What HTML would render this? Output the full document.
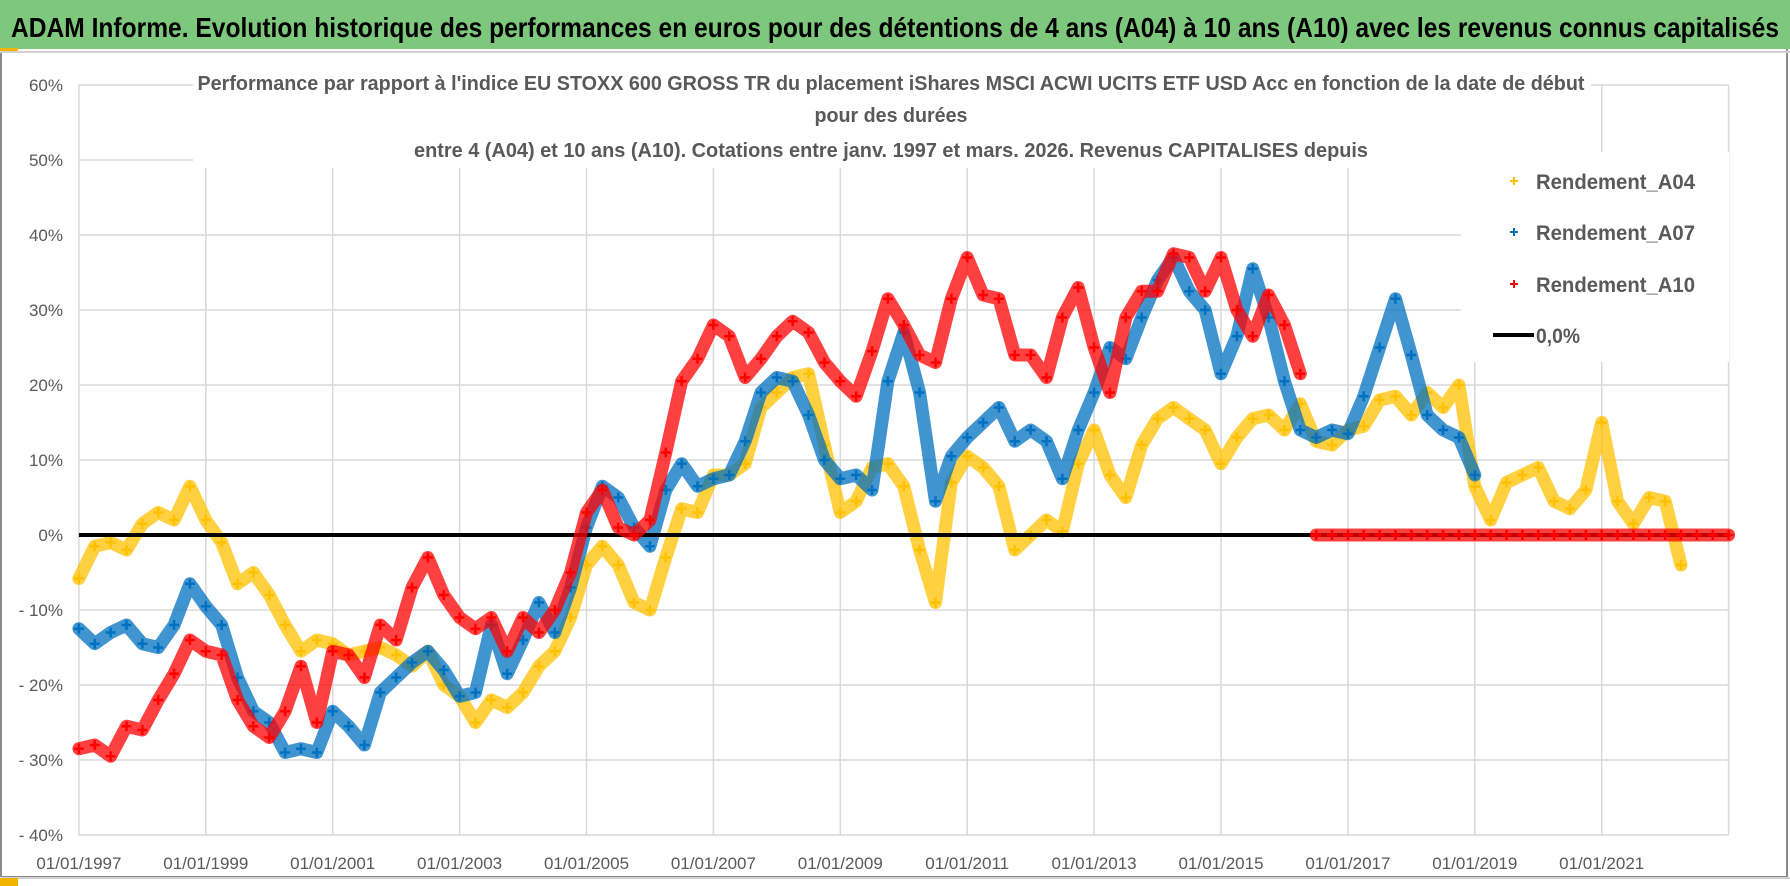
<!DOCTYPE html>
<html><head><meta charset="utf-8">
<style>
html,body{margin:0;padding:0;background:#fff;}
svg{display:block;font-family:"Liberation Sans",sans-serif;}
</style></head>
<body>
<svg id="chart" width="1790" height="886" viewBox="0 0 1790 886" xmlns="http://www.w3.org/2000/svg">
  <rect x="0" y="0" width="1790" height="886" fill="#fff"/>
  <rect x="1" y="1" width="1786" height="876" fill="none" stroke="#8c8c8c" stroke-width="2"/>
  <rect x="0" y="0" width="1790" height="49" fill="#7ec87e"/>
  <line x1="0" y1="52" x2="1790" y2="52" stroke="#d0d0d0" stroke-width="2"/>
  <rect x="0" y="48" width="18" height="3" fill="#f0b400"/>
  <text x="11" y="37" font-size="28" font-weight="bold" fill="#000" textLength="1768" lengthAdjust="spacingAndGlyphs">ADAM Informe. Evolution historique des performances en euros pour des détentions de 4 ans (A04) à 10 ans (A10) avec les revenus connus capitalisés</text>
  <line x1="0" y1="878" x2="1790" y2="878" stroke="#d0d0d0" stroke-width="2"/>
  <rect x="0" y="878" width="18" height="8" fill="#f0b400"/>
  <g id="grid"></g>
  <g id="series"></g>
  <g id="axes"></g>
  <rect x="193" y="68" width="1398" height="100" fill="#fff"/>
  <text x="891" y="90" text-anchor="middle" font-size="20" font-weight="bold" fill="#595959" textLength="1387" lengthAdjust="spacingAndGlyphs">Performance par rapport à l'indice EU STOXX 600 GROSS TR  du placement iShares MSCI ACWI UCITS ETF USD Acc en fonction de la date de début</text>
  <text x="891" y="122" text-anchor="middle" font-size="20" font-weight="bold" fill="#595959" textLength="153" lengthAdjust="spacingAndGlyphs">pour des durées</text>
  <text x="891" y="157" text-anchor="middle" font-size="20" font-weight="bold" fill="#595959" textLength="954" lengthAdjust="spacingAndGlyphs">entre 4 (A04) et 10 ans (A10). Cotations entre janv. 1997 et mars. 2026. Revenus CAPITALISES depuis</text>
  <g>
    <rect x="1461" y="152" width="268" height="210" fill="#fff"/>
    <g>
      <path d="M1510 181h8M1514 177v8" stroke="#ffc000" stroke-width="2"/>
      <text x="1536" y="189" font-size="21" font-weight="bold" fill="#595959" textLength="159" lengthAdjust="spacingAndGlyphs">Rendement_A04</text>
    </g>
    <g>
      <path d="M1510 232h8M1514 228v8" stroke="#0070c0" stroke-width="2"/>
      <text x="1536" y="240" font-size="21" font-weight="bold" fill="#595959" textLength="159" lengthAdjust="spacingAndGlyphs">Rendement_A07</text>
    </g>
    <g>
      <path d="M1510 284h8M1514 280v8" stroke="#ff0000" stroke-width="2"/>
      <text x="1536" y="292" font-size="21" font-weight="bold" fill="#595959" textLength="159" lengthAdjust="spacingAndGlyphs">Rendement_A10</text>
    </g>
    <g>
      <line x1="1493" y1="335" x2="1534" y2="335" stroke="#000" stroke-width="4"/>
      <text x="1536" y="343" font-size="21" font-weight="bold" fill="#595959" textLength="44" lengthAdjust="spacingAndGlyphs">0,0%</text>
    </g>
  </g>
</svg>
<script>
// ---- data ----
const startYear = 1997;
const stepYear = 0.25;
const a04 = [-5.8,-1.5,-1,-2,1.5,3,2,6.5,2,-1,-6.5,-5,-8,-12,-15.5,-14,-14.5,-16,-15.5,-15,-16,-17.5,-15.5,-20,-21.5,-25,-22,-23,-21,-17.5,-15.5,-11,-4,
 -1.5,-4,-9,-10,-3,3.5,3,8,8,9.5,17,19,21,21.5,12,3,4.5,9,9.5,6.5,-2,-9,7,10.5,9,6.5,-2,0,2,0.5,9.5,14,8,5,12,15.5,
 17,15.5,14,9.5,13,15.5,16,14,17.5,12.5,12,14,14.5,18,18.5,16,19,17,20,6.5,2,7,8,9,4.5,3.5,6,15,4.5,1.5,5,4.5,-4];
const a07 = [-12.5,-14.5,-13,-12,-14.5,-15,-12,-6.5,-9.5,-12,-19,-23.5,-25,-29,-28.5,-29,-23.5,-25.5,-28,-21,-19,-17,-15.5,-18,-21.5,-21,-12,-18.5,-14,-9,-13,-7,1,
 6.5,5,1,-1.5,6,9.5,6.5,7.5,8,12.5,19,21,20.5,16,10,7.5,8,6,20.5,27,19,4.5,10.5,13,15,17,12.5,14,12.5,7.5,14,19,25,23.5,29,34,
 37,32.5,30,21.5,26.5,35.5,29,20.5,14,13,14,13.5,18.5,25,31.5,24,16,14,13,8];
const a10 = [-28.5,-28,-29.5,-25.5,-26,-22,-18.5,-14,-15.5,-16,-22,-25.5,-27,-23.5,-17.5,-25,-15.5,-16,-19,-12,-14,-7,-3,-8,-11,-12.5,-11,-15.5,-11,-13,-10,-5,3,
 6,1,0,2,11,20.5,23.5,28,26.5,21,23.5,26.5,28.5,27,23,20.5,18.5,24.5,31.5,28,24,23,31.5,37,32,31.5,24,24,21,29,33,25,19,29,32.5,32.5,
 37.5,37,32.5,37,30,26.5,32,28,21.5,
 0,0,0,0,0,0,0,0,0,0,0,0,0,0,0,0,0,0,0,0,0,0,0,0,0,0,0];
const yTicks = [60,50,40,30,20,10,0,-10,-20,-30,-40];
const xTickLabels = ['01/01/1997','01/01/1999','01/01/2001','01/01/2003','01/01/2005','01/01/2007','01/01/2009','01/01/2011','01/01/2013','01/01/2015','01/01/2017','01/01/2019','01/01/2021'];
const xTickYears = [1997,1999,2001,2003,2005,2007,2009,2011,2013,2015,2017,2019,2021,2023];

// ---- axes ----
const X0 = 78.9, PX_PER_YEAR = 63.45, Y0 = 535, PX_PER_PCT = 7.5;
function xScale(yr){ return X0 + (yr - 1997) * PX_PER_YEAR; }
function yScale(v){ return Y0 - v * PX_PER_PCT; }
const NS = 'http://www.w3.org/2000/svg';
function mk(tag, attrs, parent){ const e = document.createElementNS(NS, tag); for (const k in attrs) e.setAttribute(k, attrs[k]); parent.appendChild(e); return e; }

const grid = document.getElementById('grid');
const axes = document.getElementById('axes');
const plotL = xScale(1997), plotR = xScale(2023);
yTicks.forEach(t => {
  const l = mk('line', {x1: plotL, x2: plotR, y1: yScale(t), y2: yScale(t), stroke: '#d9d9d9', 'stroke-width': 1.5}, grid);
  
  
  const lab = mk('text', {x: 63, y: yScale(t) + 6, 'text-anchor': 'end', 'font-size': 17, fill: '#595959'}, axes);
  lab.textContent = t < 0 ? '- ' + Math.abs(t) + '%' : t + '%';
  
  
});
xTickYears.forEach((yr, i) => {
  const l = mk('line', {x1: xScale(yr), x2: xScale(yr), y1: yScale(60), y2: yScale(-40), stroke: '#d9d9d9', 'stroke-width': 1.5}, grid);
  
  
  if (i < xTickLabels.length) {
    const lab = mk('text', {x: xScale(yr), y: 869, 'text-anchor': 'middle', 'font-size': 17, fill: '#595959'}, axes);
    lab.textContent = xTickLabels[i];
    
    
  }
});

// ---- series ----
const layer = document.getElementById('series');
function drawSeries(vals, color, name){
  const g = mk('g', {}, layer);
  
  
  let seg = [];
  const segs = [];
  vals.forEach((v, i) => {
    const yr = startYear + i * stepYear;
    if (i > 0 && Math.abs(v - vals[i-1]) > 18) { segs.push(seg); seg = []; }
    seg.push([xScale(yr), yScale(v)]);
  });
  segs.push(seg);
  segs.forEach(s => {
    const p = mk('polyline', {points: s.map(q => q.join(',')).join(' '), fill: 'none', stroke: color, 'stroke-width': 13, 'stroke-linejoin': 'round', 'stroke-linecap': 'round', opacity: 0.75}, g);
    
    
  });
  vals.forEach((v, i) => {
    const x = xScale(startYear + i * stepYear), y = yScale(v);
    const m = mk('path', {d: `M${x-5} ${y}h10M${x} ${y-5}v10`, stroke: color, 'stroke-width': 2.5}, g);
    
    
  });
}
drawSeries(a04, '#ffc000', 'series-a04');
drawSeries(a07, '#0070c0', 'series-a07');
const zl = mk('line', {x1: plotL, x2: plotR, y1: yScale(0), y2: yScale(0), stroke: '#000', 'stroke-width': 4}, layer);


drawSeries(a10, '#ff0000', 'series-a10');
</script>
</body></html>
